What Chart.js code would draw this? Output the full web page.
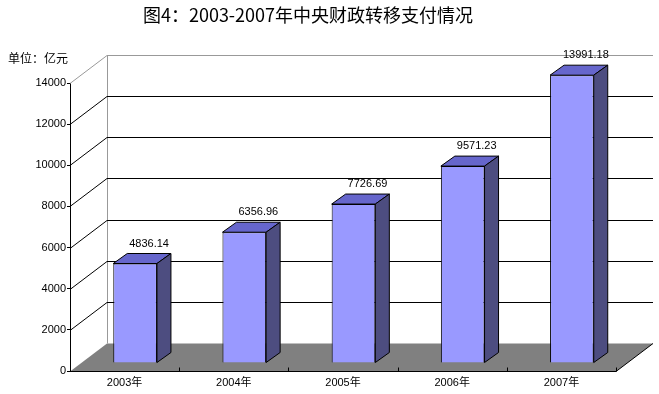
<!DOCTYPE html>
<html>
<head>
<meta charset="utf-8">
<script src="https://cdn.jsdelivr.net/npm/chart.js@4.4.1/dist/chart.umd.min.js"></script>
<style>
  html, body { margin: 0; padding: 0; background: #fff; }
  canvas { display: block; }
</style>
</head>
<body>
<canvas id="transferChart" width="659" height="394"></canvas>
<script>
// chart data
const years = ['2003年', '2004年', '2005年', '2006年', '2007年'];
const transferValues = [4836.14, 6356.96, 7726.69, 9571.23, 13991.18];
const yTicks = [0, 2000, 4000, 6000, 8000, 10000, 12000, 14000];

const TITLE = '图4：2003-2007年中央财政转移支付情况';
const UNIT = '单位：亿元';

// fake 3d look (pixels)
const DEPTH_X = 37, DEPTH_Y = 28;      // wall / floor depth
const BAR_OFF_X = 10.5, BAR_OFF_Y = 8; // bar front face behind the axis plane
const BAR_DX = 14, BAR_DY = 10;        // bar thickness

const FONT = '"Liberation Sans", "Noto Sans CJK SC", sans-serif';

// walls, floor and grid lines behind everything
const wallsPlugin = {
    id: 'walls',
    beforeDatasetsDraw(chart) {
        const ctx = chart.ctx;
        const area = chart.chartArea;
        const yScale = chart.scales.y;
        const xScale = chart.scales.x;
        const left = area.left, right = area.right;
        const y0 = Math.round(yScale.getPixelForValue(0)) + 0.5;

        ctx.save();
        // floor
        ctx.fillStyle = '#808080';
        ctx.beginPath();
        ctx.moveTo(left, y0);
        ctx.lineTo(right, y0);
        ctx.lineTo(right + DEPTH_X, y0 - DEPTH_Y);
        ctx.lineTo(left + DEPTH_X, y0 - DEPTH_Y);
        ctx.closePath();
        ctx.fill();

        ctx.lineWidth = 1;
        // back wall vertical edge
        const topY = Math.round(yScale.getPixelForValue(yTicks[yTicks.length - 1])) + 0.5;
        ctx.strokeStyle = '#999999';
        ctx.beginPath();
        ctx.moveTo(left + DEPTH_X + 0.5, topY - DEPTH_Y);
        ctx.lineTo(left + DEPTH_X + 0.5, y0 - DEPTH_Y);
        ctx.stroke();

        // grid lines: side wall diagonal + back wall horizontal
        yTicks.forEach((v, i) => {
            if (v === 0) return;
            const y = Math.round(yScale.getPixelForValue(v)) + 0.5;
            ctx.strokeStyle = i === yTicks.length - 1 ? '#999999' : '#000000';
            ctx.beginPath();
            ctx.moveTo(left, y);
            ctx.lineTo(left + DEPTH_X, y - DEPTH_Y);
            ctx.lineTo(right + DEPTH_X, y - DEPTH_Y);
            ctx.stroke();
        });

        // floor edges
        ctx.strokeStyle = '#000000';
        ctx.beginPath();
        ctx.moveTo(left, y0);
        ctx.lineTo(right, y0);
        ctx.lineTo(right + DEPTH_X, y0 - DEPTH_Y);
        ctx.stroke();

        // category ticks, pointing up into the floor
        for (let i = 0; i <= years.length; i++) {
            let x;
            if (i === 0) x = left;
            else if (i === years.length) x = right;
            else x = (xScale.getPixelForValue(i - 1) + xScale.getPixelForValue(i)) / 2;
            x = Math.round(x) + 0.5;
            ctx.beginPath();
            ctx.moveTo(x, y0);
            ctx.lineTo(x, y0 - 4);
            ctx.stroke();
        }
        ctx.restore();
    }
};

// shift the bars back and add top / side faces
const barsPlugin = {
    id: 'bars3d',
    beforeDatasetDraw(chart) {
        chart.ctx.save();
        chart.ctx.translate(BAR_OFF_X, -BAR_OFF_Y);
    },
    afterDatasetDraw(chart, args) {
        const ctx = chart.ctx;
        ctx.lineWidth = 1;
        ctx.strokeStyle = '#000000';
        ctx.lineJoin = 'miter';
        args.meta.data.forEach(bar => {
            const x0 = bar.x - bar.width / 2;
            const x1 = bar.x + bar.width / 2;
            const top = bar.y;
            const base = bar.base;

            // top face
            ctx.fillStyle = '#6666CC';
            ctx.beginPath();
            ctx.moveTo(x0, top);
            ctx.lineTo(x1, top);
            ctx.lineTo(x1 + BAR_DX, top - BAR_DY);
            ctx.lineTo(x0 + BAR_DX, top - BAR_DY);
            ctx.closePath();
            ctx.fill();
            ctx.stroke();

            // side face
            ctx.fillStyle = '#4D4D80';
            ctx.beginPath();
            ctx.moveTo(x1, top);
            ctx.lineTo(x1 + BAR_DX, top - BAR_DY);
            ctx.lineTo(x1 + BAR_DX, base - BAR_DY);
            ctx.lineTo(x1, base);
            ctx.closePath();
            ctx.fill();
            ctx.stroke();
        });
        ctx.restore();
    }
};

// value labels, title and unit
const textPlugin = {
    id: 'texts',
    afterDatasetsDraw(chart) {
        const ctx = chart.ctx;
        const meta = chart.getDatasetMeta(0);
        ctx.save();
        ctx.fillStyle = '#000000';
        ctx.textAlign = 'center';
        ctx.textBaseline = 'middle';
        ctx.font = '11px ' + FONT;
        meta.data.forEach((bar, i) => {
            // label sits above the top face
            ctx.fillText(transferValues[i].toFixed(2), bar.x + BAR_OFF_X + 14, bar.y - BAR_OFF_Y - 20);
        });

        ctx.textAlign = 'left';
        ctx.font = '12px "Noto Sans CJK SC", sans-serif';
        ctx.fillText(UNIT, 8, 58);

        ctx.textAlign = 'center';
        ctx.font = '18px "Noto Sans CJK SC", sans-serif';
        ctx.fillText(TITLE, 308, 15);
        ctx.restore();
    }
};

new Chart(document.getElementById('transferChart'), {
    type: 'bar',
    data: {
        labels: years,
        datasets: [{
            data: transferValues,
            backgroundColor: '#9999FF',
            borderColor: '#000000',
            borderWidth: 1,
            categoryPercentage: 0.4,
            barPercentage: 1,
            clip: false
        }]
    },
    options: {
        responsive: false,
        animation: false,
        events: [],
        layout: { padding: { top: 83, right: 43, left: 0, bottom: 0 } },
        plugins: {
            legend: { display: false },
            tooltip: { enabled: false },
            title: { display: false }
        },
        scales: {
            x: {
                afterFit(scale) { scale.height = 23; },
                grid: { display: false, drawTicks: false },
                border: { display: false },
                ticks: {
                    color: '#000000',
                    font: { size: 11, family: FONT },
                    padding: 5,
                    maxRotation: 0
                }
            },
            y: {
                min: 0,
                max: 14000,
                afterFit(scale) { scale.width = 70; },
                afterBuildTicks(scale) { scale.ticks = yTicks.map(v => ({ value: v })); },
                grid: {
                    drawOnChartArea: false,
                    drawTicks: true,
                    tickLength: 3,
                    color: '#000000'
                },
                border: { display: true, color: '#000000', width: 1 },
                ticks: {
                    color: '#000000',
                    font: { size: 11, family: FONT },
                    padding: 1,
                    callback: v => String(v)
                }
            }
        }
    },
    plugins: [wallsPlugin, barsPlugin, textPlugin]
});
</script>
</body>
</html>
